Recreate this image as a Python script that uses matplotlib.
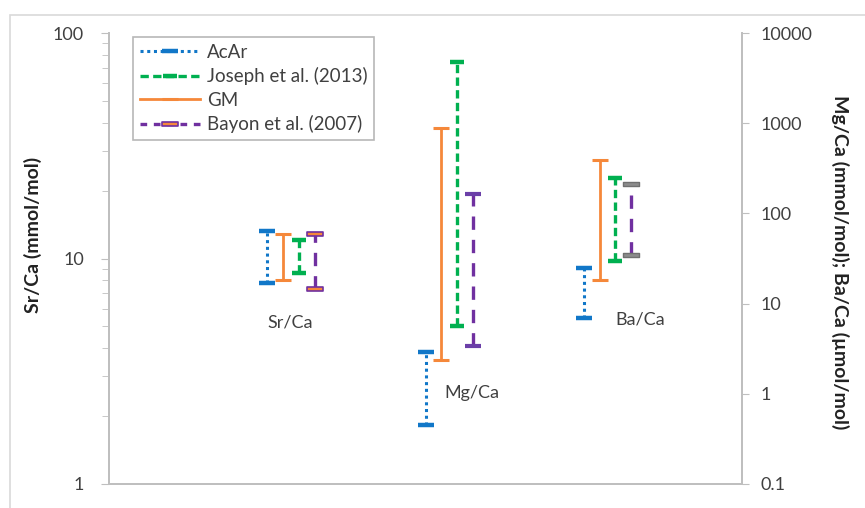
import matplotlib
matplotlib.use("Agg")
import matplotlib.pyplot as plt
import numpy as np
from matplotlib.lines import Line2D
from matplotlib.path import Path
from matplotlib.ticker import FixedLocator, NullFormatter, FixedFormatter

plt.rcParams['font.family'] = ['Lato', 'DejaVu Sans']

# ---------------- data ----------------
series = ["AcAr", "Joseph et al. (2013)", "GM", "Bayon et al. (2007)"]
ratios = ["Sr/Ca", "Mg/Ca", "Ba/Ca"]
# ranges [low, high]; Sr/Ca on left axis (mmol/mol); Mg/Ca (mmol/mol), Ba/Ca (umol/mol) on right axis
acar_lo = [7.8, 0.45, 7.0]
acar_hi = [13.3, 2.9, 24.6]
joseph_lo = [8.6, 5.6, 30.0]
joseph_hi = [12.1, 4800, 250]
gm_lo = [8.0, 2.4, 18.3]
gm_hi = [12.9, 880, 390]
bayon_lo = [7.3, 3.4, 34.6]
bayon_hi = [12.8, 165, 212]

left_ticks = [1, 10, 100]
right_ticks = [0.1, 1, 10, 100, 1000, 10000]
right_labels = ["0.1", "1", "10", "100", "1000", "10000"]

# ---------------- figure ----------------
fig = plt.figure(figsize=(8.65, 5.08), dpi=100)
ax = fig.add_axes([109/865, 24/508, 633/865, 451/508])
ax2 = ax.twinx()

grey = "#BFBFBF"
txtc = "#404040"

c_blue = "#1177C8"
c_green = "#00B050"
c_orange = "#F5883A"
c_purple = "#7030A0"

rect = Path([(-1, -0.3), (1, -0.3), (1, 0.3), (-1, 0.3), (-1, -0.3)],
            [Path.MOVETO, Path.LINETO, Path.LINETO, Path.LINETO, Path.CLOSEPOLY])

styles = {
    "AcAr": dict(color=c_blue, ls=(0, (1, 1.2)), lw=2.2),
    "Joseph et al. (2013)": dict(color=c_green, ls=(0, (2.5, 1.3)), lw=2.4),
    "GM": dict(color=c_orange, ls="-", lw=2.0),
    "Bayon et al. (2007)": dict(color=c_purple, ls=(0, (4, 3)), lw=2.4),
}
offsets = {"AcAr": 0.0, "GM": 0.1, "Joseph et al. (2013)": 0.2, "Bayon et al. (2007)": 0.3}
data = {
    "AcAr": (acar_lo, acar_hi),
    "Joseph et al. (2013)": (joseph_lo, joseph_hi),
    "GM": (gm_lo, gm_hi),
    "Bayon et al. (2007)": (bayon_lo, bayon_hi),
}
cap_style = {
    "AcAr": [dict(marker="_", ms=11, mew=3.2, mec=c_blue)] * 3,
    "Joseph et al. (2013)": [dict(marker="_", ms=10, mew=3.2, mec=c_green)] * 3,
    "GM": [dict(marker="_", ms=11, mew=2.2, mec=c_orange)] * 3,
    "Bayon et al. (2007)": [
        dict(marker=rect, ms=11, mew=1.2, mec=c_purple, mfc=c_orange),
        dict(marker="_", ms=11, mew=3.0, mec="#6B3FA8"),
        dict(marker=rect, ms=11, mew=1.0, mec="#707070", mfc="#8C8C8C"),
    ],
}

for name in ["AcAr", "GM", "Joseph et al. (2013)", "Bayon et al. (2007)"]:
    lo, hi = data[name]
    st = styles[name]
    for i in range(3):
        target = ax if i == 0 else ax2
        x = i + 1 + offsets[name]
        target.plot([x, x], [lo[i], hi[i]], color=st["color"], ls=st["ls"], lw=st["lw"],
                    solid_capstyle="butt", dash_capstyle="butt", zorder=3)
        target.plot([x, x], [lo[i], hi[i]], ls="none", zorder=4, **cap_style[name][i])

# axes setup
ax.set_yscale("log")
ax.set_ylim(1, 100)
ax.set_xlim(0, 4)
ax2.set_yscale("log")
ax2.set_ylim(0.1, 10000)

ax.set_xticks([])
ax.yaxis.set_major_locator(FixedLocator(left_ticks))
ax.yaxis.set_major_formatter(FixedFormatter([str(t) for t in left_ticks]))
minors = [m * d for d in [1, 10] for m in range(2, 10)]
ax.yaxis.set_minor_locator(FixedLocator(minors))
ax.yaxis.set_minor_formatter(NullFormatter())
ax.tick_params(axis="y", which="major", length=6, color=grey, labelsize=13, labelcolor=txtc, pad=12)
ax.tick_params(axis="y", which="minor", length=5, color=grey)

ax2.yaxis.set_major_locator(FixedLocator(right_ticks))
ax2.yaxis.set_major_formatter(FixedFormatter(right_labels))
ax2.yaxis.set_minor_locator(FixedLocator([]))
ax2.tick_params(axis="y", which="major", length=5, color=grey, labelsize=13, labelcolor=txtc, pad=8)

for a in (ax, ax2):
    a.spines["top"].set_visible(False)
    for s in ("left", "right", "bottom"):
        a.spines[s].set_color(grey)
        a.spines[s].set_linewidth(1.3)

# group labels
ax.text(1.144, 5.2, "Sr/Ca", ha="center", va="center", fontsize=13, color=txtc)
ax2.text(2.294, 1.02, "Mg/Ca", ha="center", va="center", fontsize=13, color=txtc)
ax2.text(3.355, 6.6, "Ba/Ca", ha="center", va="center", fontsize=13, color=txtc)

# axis titles
fig.text(33/865, 1 - 235/508, "Sr/Ca (mmol/mol)", rotation=90, ha="center", va="center",
         fontsize=14, fontweight="bold", color="#222222")
fig.text(840/865, 1 - 262/508, "Mg/Ca (mmol/mol); Ba/Ca (µmol/mol)", rotation=-90,
         ha="center", va="center", fontsize=14, fontweight="bold", color="#222222")

# legend
handles = [
    Line2D([], [], color=c_blue, ls=(0, (1, 1.2)), lw=2.2, marker="_", ms=11, mew=3.2),
    Line2D([], [], color=c_green, ls=(0, (2.5, 1.3)), lw=2.4, marker="_", ms=10, mew=3.2),
    Line2D([], [], color=c_orange, ls="-", lw=2.0, marker="_", ms=11, mew=2.2),
    Line2D([], [], color=c_purple, ls=(0, (2, 2)), lw=2.4, marker=rect, ms=11, mew=1.2,
           mec=c_purple, mfc=c_orange),
]
leg = ax2.legend(handles, series,
                 loc="upper left", bbox_to_anchor=(24/633, 1 - 4/451), numpoints=1,
                 handlelength=3.2, handletextpad=0.4, fontsize=13.5, labelspacing=0.35,
                 frameon=True, fancybox=False, borderpad=0.35, borderaxespad=0)
leg.get_frame().set_edgecolor("#A6A6A6")
leg.get_frame().set_linewidth(1.2)
for t in leg.get_texts():
    t.set_color(txtc)

# outer frame
fig.patches.append(plt.Rectangle((10/865, -0.05), 1.0, 1 - 15/508 + 0.05, transform=fig.transFigure,
                                 fill=False, edgecolor="#D9D9D9", lw=1.2, zorder=0))

fig.savefig("out.png", dpi=100)
